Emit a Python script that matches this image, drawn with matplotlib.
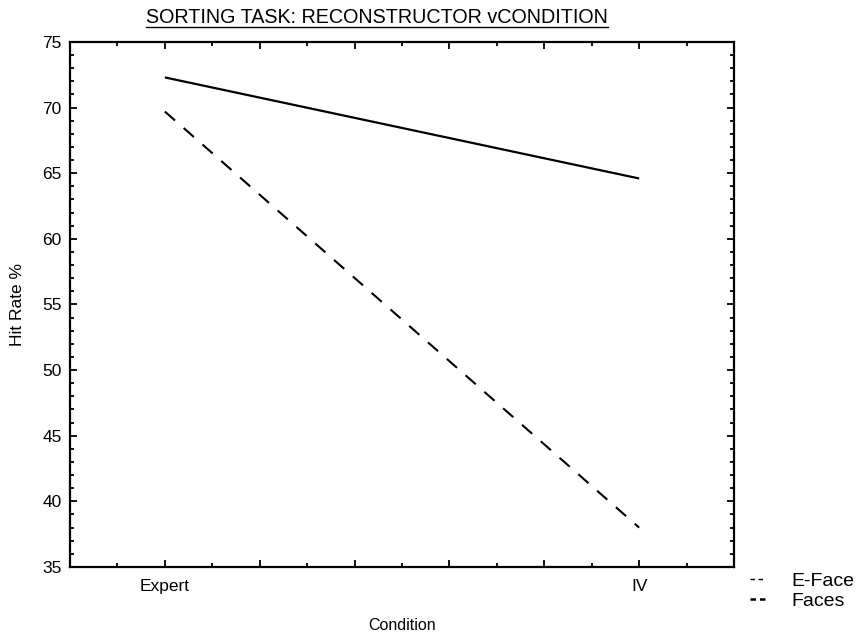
import matplotlib
matplotlib.use("Agg")
import matplotlib.pyplot as plt
from matplotlib.lines import Line2D
from matplotlib.ticker import MultipleLocator, FixedLocator, FixedFormatter

plt.rcParams['font.family'] = ['Liberation Sans', 'DejaVu Sans']

# Data
conditions = ["Expert", "IV"]
faces = [72.3, 64.6]
e_face = [69.7, 38.0]
series_labels = ["E-Face", "Faces"]

fig = plt.figure(figsize=(8.56, 6.37), dpi=100)
ax = fig.add_axes([0.0818, 0.1099, 0.7757, 0.8242])

xpos = list(range(len(conditions)))
ax.plot(xpos, faces, color="black", lw=1.6, solid_capstyle="butt")
ax.plot(xpos, e_face, color="black", lw=1.5, ls=(0, (6.5, 5.5)))

ax.set_xlim(-0.2, 1.2)
ax.set_ylim(35, 75)

ax.xaxis.set_major_locator(FixedLocator([0, 0.2, 0.4, 0.6, 0.8, 1.0]))
ax.xaxis.set_major_formatter(FixedFormatter(["Expert", "", "", "", "", "IV"]))
ax.xaxis.set_minor_locator(FixedLocator([-0.1, 0.1, 0.3, 0.5, 0.7, 0.9, 1.1]))
ax.yaxis.set_major_locator(MultipleLocator(5))
ax.yaxis.set_minor_locator(MultipleLocator(1))

ax.tick_params(which="both", direction="in", top=True, right=True,
               color="black", labelsize=12.5)
ax.tick_params(which="major", length=5, width=1.3)
ax.tick_params(which="minor", length=3, width=1.3)
ax.tick_params(axis="y", which="major", pad=6)
ax.tick_params(axis="x", which="major", pad=9)

for sp in ax.spines.values():
    sp.set_linewidth(1.6)

ax.set_xlabel("Condition", fontsize=11.5, labelpad=17)
ax.set_ylabel("Hit Rate %", fontsize=12.5)
ax.yaxis.set_label_coords(-0.068, 0.5)

title = fig.text(0.440, 0.972, "SORTING TASK: RECONSTRUCTOR vCONDITION",
                 ha="center", va="center", fontsize=14.2)

# Legend placed outside the axes, lower right
handles = [
    Line2D([], [], color="black", lw=1.0, ls=(0, (3.2, 2.6))),
    Line2D([], [], color="black", lw=1.8, ls=(0, (2.2, 1.6))),
]
fig.legend(handles, series_labels, loc="upper left",
           bbox_to_anchor=(0.876, 0.102), frameon=False,
           fontsize=14, handlelength=0.85, handletextpad=1.3,
           labelspacing=0.15, borderaxespad=0.0, borderpad=0.0)

# Underline beneath the title text
fig.canvas.draw()
bb = title.get_window_extent(fig.canvas.get_renderer())
bbf = bb.transformed(fig.transFigure.inverted())
y_ul = bbf.y0 + 0.001
fig.add_artist(Line2D([bbf.x0, bbf.x1], [y_ul, y_ul], color="black",
                      lw=1.0, transform=fig.transFigure))

fig.savefig("out.png", dpi=100)
